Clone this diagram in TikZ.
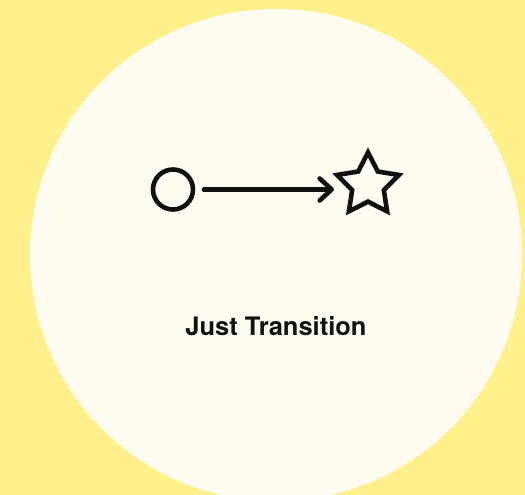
\documentclass[tikz,border=0pt]{standalone}
\usepackage{fontspec}
\setmainfont{TeX Gyre Heros}
\usepackage{tikz}
\usetikzlibrary{shapes.geometric,arrows.meta}
\definecolor{bgyellow}{HTML}{FEF18B}
\definecolor{cream}{HTML}{FEFCF0}
\definecolor{ink}{HTML}{111111}

\tikzset{
  icon/.style={draw=ink, line width=4.6pt, inner sep=0pt, outer sep=0pt},
  flow/.style={draw=ink, line width=4.6pt, line cap=round,
    -{Straight Barb[length=12pt, width=22pt, line cap=round, line join=round]}},
  caption/.style={font=\fontsize{25.5}{30}\selectfont\bfseries, text=ink, anchor=base}
}

\begin{document}
\begin{tikzpicture}[x=1pt, y=-1pt]
    \def\W{525}
    \def\H{495}
    \fill[bgyellow] (0,0) rectangle (\W,\H);
    \useasboundingbox (0,0) rectangle (\W,\H);
    \begin{scope}
      \clip (0,0) rectangle (\W,\H);
      \fill[cream] (276,255) circle (246pt);
    \end{scope}
    \node[icon, circle, minimum size=40pt] (start) at (173,189.5) {};
    \node[icon, star, star points=5, star point ratio=1.95, minimum size=65pt,
      line join=miter] (goal) at (368,185) {};
    \coordinate (tip) at (334,189.5);
    \draw[flow] ([xshift=11pt]start.east) -- (tip);
    \node[caption] (label) at (276,335.5) {Just Transition};
  \end{tikzpicture}
\end{document}
